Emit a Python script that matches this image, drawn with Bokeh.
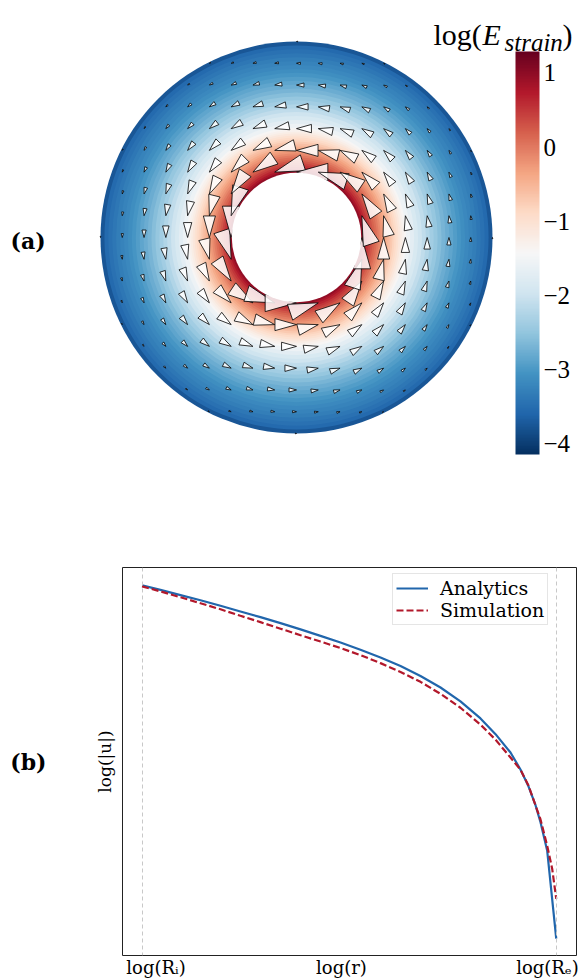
import numpy as np
from bokeh.plotting import figure
from bokeh.models import (Range1d, LinearColorMapper, ColorBar, FixedTicker, CustomJSTickFormatter,
                          ColumnDataSource, Span, Legend, LegendItem, LinearAxis)
from bokeh.transform import transform
from bokeh.layouts import column
from bokeh.core.properties import value
from bokeh.embed import file_html
from bokeh.resources import INLINE

# ---------------- data: panel (a) ----------------
R_i = 0.33          # inner radius (units of R_e)
R_e = 1.0           # outer radius
grid_n = 9          # quiver grid: R_e / 9 spacing
# radial profile of log(E_strain) (band outer radius, value)
strain_r = [0.34, 0.35, 0.36, 0.37, 0.38, 0.39, 0.40, 0.41, 0.42, 0.43, 0.44, 0.45,
            0.46, 0.47, 0.48, 0.49, 0.50, 0.51, 0.52, 0.53, 0.54, 0.55, 0.56,
            0.58, 0.60, 0.62, 0.64, 0.66, 0.68, 0.70, 0.72, 0.74, 0.76, 0.78, 0.80,
            0.82, 0.84, 0.86, 0.88, 0.90, 0.92, 0.94, 0.96, 0.98, 1.00]
strain_log = [0.95, 0.80, 0.65, 0.52, 0.40, 0.29, 0.18, 0.08, -0.02, -0.12, -0.22, -0.32,
              -0.42, -0.52, -0.62, -0.72, -0.82, -0.92, -1.02, -1.12, -1.22, -1.31, -1.40,
              -1.57, -1.72, -1.86, -1.99, -2.12, -2.25, -2.37, -2.48, -2.59, -2.69, -2.78, -2.87,
              -2.95, -3.03, -3.11, -3.18, -3.25, -3.32, -3.39, -3.46, -3.55, -3.75]
# arrow (triangle) length versus radius
arrow_r = [0.333, 0.444, 0.556, 0.667, 0.778, 0.889, 1.0]
arrow_len = [0.160, 0.110, 0.076, 0.059, 0.038, 0.020, 0.006]
cbar_low, cbar_high = -4.15, 1.29
cbar_ticks = [-4, -3, -2, -1, 0, 1]

# ---------------- data: panel (b) ----------------
x_ana = [-0.482, -0.4606, -0.4373, -0.4141, -0.3908, -0.3676, -0.3443, -0.3210, -0.2977,
         -0.2745, -0.2512, -0.2280, -0.2047, -0.1814, -0.1582, -0.1349, -0.1117, -0.0884,
         -0.0709, -0.0535, -0.0419, -0.0326, -0.0244, -0.0186, -0.0108, -0.0003]
y_ana = [0.431, 0.404, 0.373, 0.342, 0.309, 0.275, 0.241, 0.205, 0.168, 0.129, 0.089,
         0.046, 0.000, -0.051, -0.111, -0.180, -0.263, -0.365, -0.459, -0.569, -0.670,
         -0.771, -0.884, -0.986, -1.157, -1.682]
x_sim = [-0.482, -0.4606, -0.4373, -0.4141, -0.3908, -0.3676, -0.3443, -0.3210, -0.2977,
         -0.2745, -0.2512, -0.2280, -0.2047, -0.1814, -0.1582, -0.1349, -0.1117, -0.0884,
         -0.0709, -0.0535, -0.0419, -0.0326, -0.0244, -0.0186, -0.0108, -0.0050, -0.0003]
y_sim = [0.425, 0.395, 0.360, 0.324, 0.288, 0.249, 0.211, 0.172, 0.133, 0.095, 0.056,
         0.014, -0.034, -0.087, -0.146, -0.218, -0.301, -0.402, -0.492, -0.599, -0.671,
         -0.766, -0.885, -0.969, -1.127, -1.265, -1.444]
ref_lines = [float(np.log10(R_i)), float(np.log10(R_e))]
# positions where the three x labels are centred in the picture
xtick_vals = [-0.4658, -0.2501, -0.0105]
xtick_labels = ["log(R\u1d62)", "log(r)", "log(R\u2091)"]
series_names = ["Analytics", "Simulation"]

# ---------------- styling helpers ----------------
rdbu = ['#053061', '#2166ac', '#4393c3', '#92c5de', '#d1e5f0', '#f7f7f7',
        '#fddbc7', '#f4a582', '#d6604d', '#b2182b', '#67001f']


def interp_pal(cols, n):
    rgb = np.array([[int(c[i:i + 2], 16) for i in (1, 3, 5)] for c in cols], dtype=float)
    t0 = np.linspace(0, 1, len(cols))
    t = np.linspace(0, 1, n)
    out = []
    for tt in t:
        r, g, b = (np.interp(tt, t0, rgb[:, k]) for k in range(3))
        out.append('#%02x%02x%02x' % (int(round(r)), int(round(g)), int(round(b))))
    return out


pal = interp_pal(rdbu, 256)
mapper = LinearColorMapper(palette=pal, low=cbar_low, high=cbar_high)

W = 587
HA, HB = 488, 492
S = 196.0            # px per unit in panel (a)
CX, CY = 296, 237    # annulus centre in figure pixels


def ax_(px):  # page x pixel -> data
    return (px - CX) / S


def ay_(py):
    return (CY - py) / S


pa = figure(width=W, height=HA, x_range=Range1d(-CX / S, (W - CX) / S),
            y_range=Range1d(-(HA - CY) / S, CY / S), output_backend="svg",
            toolbar_location=None, x_axis_location=None, y_axis_location=None,
            min_border=0, outline_line_color=None)
pa.frame_align = False
pa.grid.visible = False

order = np.argsort(strain_r)[::-1]
ring_src = ColumnDataSource(dict(r=np.array(strain_r)[order], v=np.array(strain_log)[order]))
pa.circle(x=0, y=0, radius='r', source=ring_src, fill_color=transform('v', mapper),
          line_color=None)

# quiver triangles (tip at grid node, counter-clockwise)
ii = np.arange(-grid_n, grid_n + 1) * (R_e / grid_n)
gx, gy = np.meshgrid(ii, ii)
gx, gy = gx.ravel(), gy.ravel()
rr = np.hypot(gx, gy)
m = (rr >= R_i - 1e-3) & (rr <= R_e + 1e-6)
gx, gy, rr = gx[m], gy[m], rr[m]
L = np.interp(rr, arrow_r, arrow_len)
tx, ty = -gy / rr, gx / rr
nx, ny = gx / rr, gy / rr
bx, by = gx - L * tx, gy - L * ty
hw = 0.28 * L
xs = [[a, b + h * c, b - h * c] for a, b, c, h in zip(gx, bx, nx, hw)]
ys = [[a, b + h * c, b - h * c] for a, b, c, h in zip(gy, by, ny, hw)]
pa.patches(xs, ys, fill_color='white', fill_alpha=0.85, line_color='black', line_width=0.8)

pa.circle(x=[0], y=[0], radius=R_i, fill_color='white', line_color=None)

cb = ColorBar(color_mapper=mapper, location=(515, 34), width=24, height=403, padding=0,
              ticker=FixedTicker(ticks=cbar_ticks),
              formatter=CustomJSTickFormatter(code="return tick.toString().replace('-', '\u2212');"),
              major_tick_line_color=None, minor_tick_line_color=None, bar_line_color=None,
              border_line_color=None, background_fill_alpha=0, label_standoff=4,
              major_label_text_font="Liberation Serif", major_label_text_font_size="25px",
              major_label_text_color="black")
pa.add_layout(cb)

tf = value("Liberation Serif")
pa.text(x=[ax_(433)], y=[ay_(34)], text=["log("], text_font=tf, text_font_size="30px",
        text_baseline="alphabetic", text_color="black")
pa.text(x=[ax_(482)], y=[ay_(34)], text=["E"], text_font=tf, text_font_size="30px",
        text_font_style="italic", text_baseline="alphabetic", text_color="black")
pa.text(x=[ax_(504)], y=[ay_(42)], text=["strain"], text_font=tf, text_font_size="25px",
        text_font_style="italic", text_baseline="alphabetic", text_color="black")
pa.text(x=[ax_(562)], y=[ay_(34)], text=[")"], text_font=tf, text_font_size="30px",
        text_baseline="alphabetic", text_color="black")
pa.text(x=[ax_(10)], y=[ay_(240)], text=["(a)"], text_font=value("DejaVu Serif"),
        text_font_size="22px", text_font_style="bold", text_baseline="middle", text_color="black")

# ---------------- panel (b) ----------------
PX = 859.8
xb0 = ref_lines[0] - 20 / PX
xb1 = ref_lines[1] + 20 / PX
pb = figure(width=W, height=HB, x_range=Range1d(xb0, xb1), y_range=Range1d(-1.783, 0.538),
            output_backend="svg", toolbar_location=None, min_border_left=122,
            min_border_right=11, min_border_top=79, min_border_bottom=23,
            outline_line_color="#222222", outline_line_width=1)
pb.frame_align = False
pb.grid.visible = False

for xv in ref_lines:
    pb.add_layout(Span(location=xv, dimension='height', line_color='#c8c8c8',
                       line_dash='4 3', line_width=1))

r1 = pb.line(x_ana, y_ana, line_color='#2166ac', line_width=2.2)
r2 = pb.line(x_sim, y_sim, line_color='#b2182b', line_width=2.2, line_dash='7 3')

leg = Legend(items=[LegendItem(label=series_names[0], renderers=[r1]),
                    LegendItem(label=series_names[1], renderers=[r2])],
             location=(270, 330), label_text_font="DejaVu Serif", label_text_font_size="19px",
             label_text_color="black",
             glyph_width=32, glyph_height=18, label_height=18, spacing=0, padding=3,
             label_standoff=12, border_line_color='#cccccc', border_line_width=1, margin=0)
pb.add_layout(leg)

pb.xaxis.ticker = FixedTicker(ticks=xtick_vals)
pb.xaxis.formatter = CustomJSTickFormatter(args=dict(labels=xtick_labels),
                                           code="return labels[index];")
pb.xaxis.major_tick_line_color = None
pb.xaxis.minor_tick_line_color = None
pb.xaxis.major_tick_out = 0
pb.xaxis.axis_line_color = None
pb.xaxis.major_label_standoff = 1
pb.xaxis.major_label_text_font = "DejaVu Serif"
pb.xaxis.major_label_text_font_size = "18px"
pb.xaxis.major_label_text_color = "black"

pb.yaxis.ticker = FixedTicker(ticks=[])
pb.yaxis.axis_label = "log(|u|)"
pb.yaxis.axis_label_text_font = "DejaVu Serif"
pb.yaxis.axis_label_text_font_size = "17px"
pb.yaxis.axis_label_text_font_style = "normal"
pb.yaxis.axis_label_text_color = "black"
pb.yaxis.axis_line_color = None
pb.yaxis.major_tick_line_color = None
pb.yaxis.minor_tick_line_color = None
pb.yaxis.major_label_text_font_size = "0px"
pb.yaxis.major_label_standoff = 0
pb.yaxis.axis_label_standoff = 8

lab_axis = LinearAxis(ticker=FixedTicker(ticks=[]), axis_label="(b)",
                      axis_label_orientation="horizontal", axis_label_standoff=45,
                      axis_label_text_font="DejaVu Serif", axis_label_text_font_size="22px",
                      axis_label_text_font_style="bold", axis_label_text_color="black",
                      axis_line_color=None, major_tick_line_color=None,
                      minor_tick_line_color=None, major_label_text_font_size="0px",
                      major_label_standoff=0)
pb.add_layout(lab_axis, "left")

layout = column(pa, pb)
open("out.html", "w").write(file_html(layout, INLINE))
